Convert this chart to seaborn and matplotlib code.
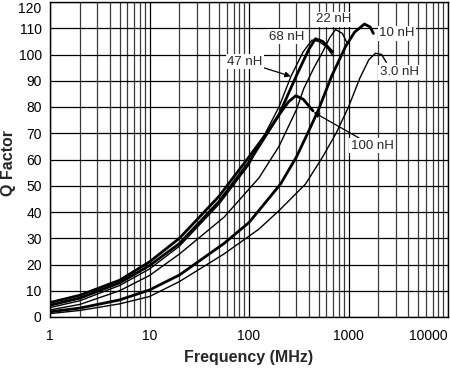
import numpy as np
import pandas as pd
import matplotlib
matplotlib.use("Agg")
import matplotlib.pyplot as plt
import seaborn as sns
from matplotlib.ticker import FixedLocator, NullFormatter

# ---- data ----
f_100 = [1, 2, 5, 10, 20, 50, 100, 150, 200, 250, 295, 350, 440]
q_100 = [5.5, 8.3, 14, 21, 30, 46, 61, 70, 77, 82, 84.3, 83, 78.5]

f_68 = [1, 2, 5, 10, 20, 50, 100, 200, 300, 400, 465, 550, 690]
q_68 = [4.5, 7.2, 13, 19.6, 28, 44, 59, 77, 92, 102, 106, 105, 101]

f_47 = [1, 2, 5, 10, 20, 50, 100, 200, 265, 350, 430, 500, 600, 700]
q_47 = [3.6, 6.2, 12, 18.3, 27, 43, 58, 80, 91.8, 101, 105.5, 105, 103, 99.5]

f_22 = [1, 2, 5, 10, 20, 56, 126, 200, 300, 355, 450, 550, 650, 741, 870, 977]
q_22 = [2.7, 4.8, 10, 15.8, 24, 38, 53, 65, 79, 87, 95, 101, 106.5, 109.5, 108, 104]

f_10 = [1, 2, 5, 10, 20, 56, 100, 207, 300, 400, 500, 676, 933, 1150, 1445, 1650, 1780]
q_10 = [2, 3.4, 6.5, 10.3, 16, 28, 36, 50.6, 61, 71, 79, 91.7, 103, 108.5, 111.6, 110.5, 108]

f_3 = [1, 2, 5, 10, 20, 56, 126, 200, 369, 550, 750, 1000, 1300, 1600, 1870, 2150, 2400]
q_3 = [1.3, 2.5, 5, 7.8, 13.5, 24, 33.5, 40.5, 50.6, 61, 70, 80, 91, 98, 100.5, 100, 97]

series = [
    ("100 nH", f_100, q_100, 2.0),
    ("68 nH", f_68, q_68, 2.0),
    ("47 nH", f_47, q_47, 1.0),
    ("22 nH", f_22, q_22, 1.0),
    ("10 nH", f_10, q_10, 2.0),
    ("3.0 nH", f_3, q_3, 1.0),
]

y_ticks = list(range(0, 121, 10))
x_ticks = [1, 10, 100, 1000, 10000]
x_ticklabels = ["1", "10", "100", "1000", "10000"]

sns.set_theme(style="white")
plt.rcParams["font.family"] = ["Liberation Sans", "DejaVu Sans"]

fig = plt.figure(figsize=(4.5, 3.68), dpi=100)
ax = fig.add_axes([50 / 450, 1 - 317 / 368, 398 / 450, 315 / 368])

ax.set_xscale("log")
ax.set_xlim(1, 10000)
ax.set_ylim(0, 120)

# grid
minor = [m * 10 ** d for d in range(4) for m in range(2, 10)]
for xv in minor:
    ax.axvline(xv, color="#3a3a3a", lw=0.9, zorder=1)
for xv in x_ticks:
    ax.axvline(xv, color="black", lw=0.9, zorder=1)
for yv in y_ticks:
    ax.axhline(yv, color="black", lw=0.9, zorder=1)

for name, f, q, lw in series:
    df = pd.DataFrame({"f": f, "q": q})
    sns.lineplot(data=df, x="f", y="q", ax=ax, color="black", lw=lw,
                 sort=False, estimator=None, zorder=3)

ax.xaxis.set_major_locator(FixedLocator(x_ticks))
ax.set_xticklabels(x_ticklabels)
ax.xaxis.set_minor_formatter(NullFormatter())
ax.set_yticks(y_ticks)
ax.tick_params(axis="both", length=0, labelsize=10, colors="black")
ax.tick_params(axis="y", pad=6)
ax.tick_params(axis="x", pad=9)
ax.get_yticklabels()[-1].set_va("top")
ax.get_xticklabels()[-1].set_ha("right")
for s in ax.spines.values():
    s.set_color("black")
    s.set_linewidth(1.0)

ax.set_xlabel("Frequency (MHz)", fontsize=11.5, fontweight="bold", labelpad=5)
ax.set_ylabel("Q Factor", fontsize=11.5, fontweight="bold", va="center")
ax.yaxis.set_label_coords(-41 / 398, 0.49)

box = dict(facecolor="white", edgecolor="none", pad=1.0)
ax.text(708, 113.5, "22 nH", fontsize=9.5, ha="center", va="center", bbox=box, zorder=5)
ax.text(237, 106.8, "68 nH", fontsize=9.5, ha="center", va="center", bbox=box, zorder=5)
ax.text(3055, 108.1, "10 nH", fontsize=9.5, ha="center", va="center", bbox=box, zorder=5)
ax.text(3236, 93.2, "3.0 nH", fontsize=9.5, ha="center", va="center", bbox=box, zorder=5)
ax.annotate("47 nH", xy=(263, 91.7), xytext=(91, 97.2), fontsize=9.5, ha="center", va="center",
            bbox=box, zorder=5,
            arrowprops=dict(arrowstyle="-|>", color="black", lw=0.9, mutation_scale=8,
                            shrinkA=0, shrinkB=0))
ax.annotate("100 nH", xy=(447, 78), xytext=(1738, 65.3), fontsize=9.5, ha="center", va="center",
            bbox=box, zorder=5,
            arrowprops=dict(arrowstyle="-|>", color="black", lw=0.9, mutation_scale=8,
                            shrinkA=0, shrinkB=0))

fig.savefig("out.png", dpi=100)
